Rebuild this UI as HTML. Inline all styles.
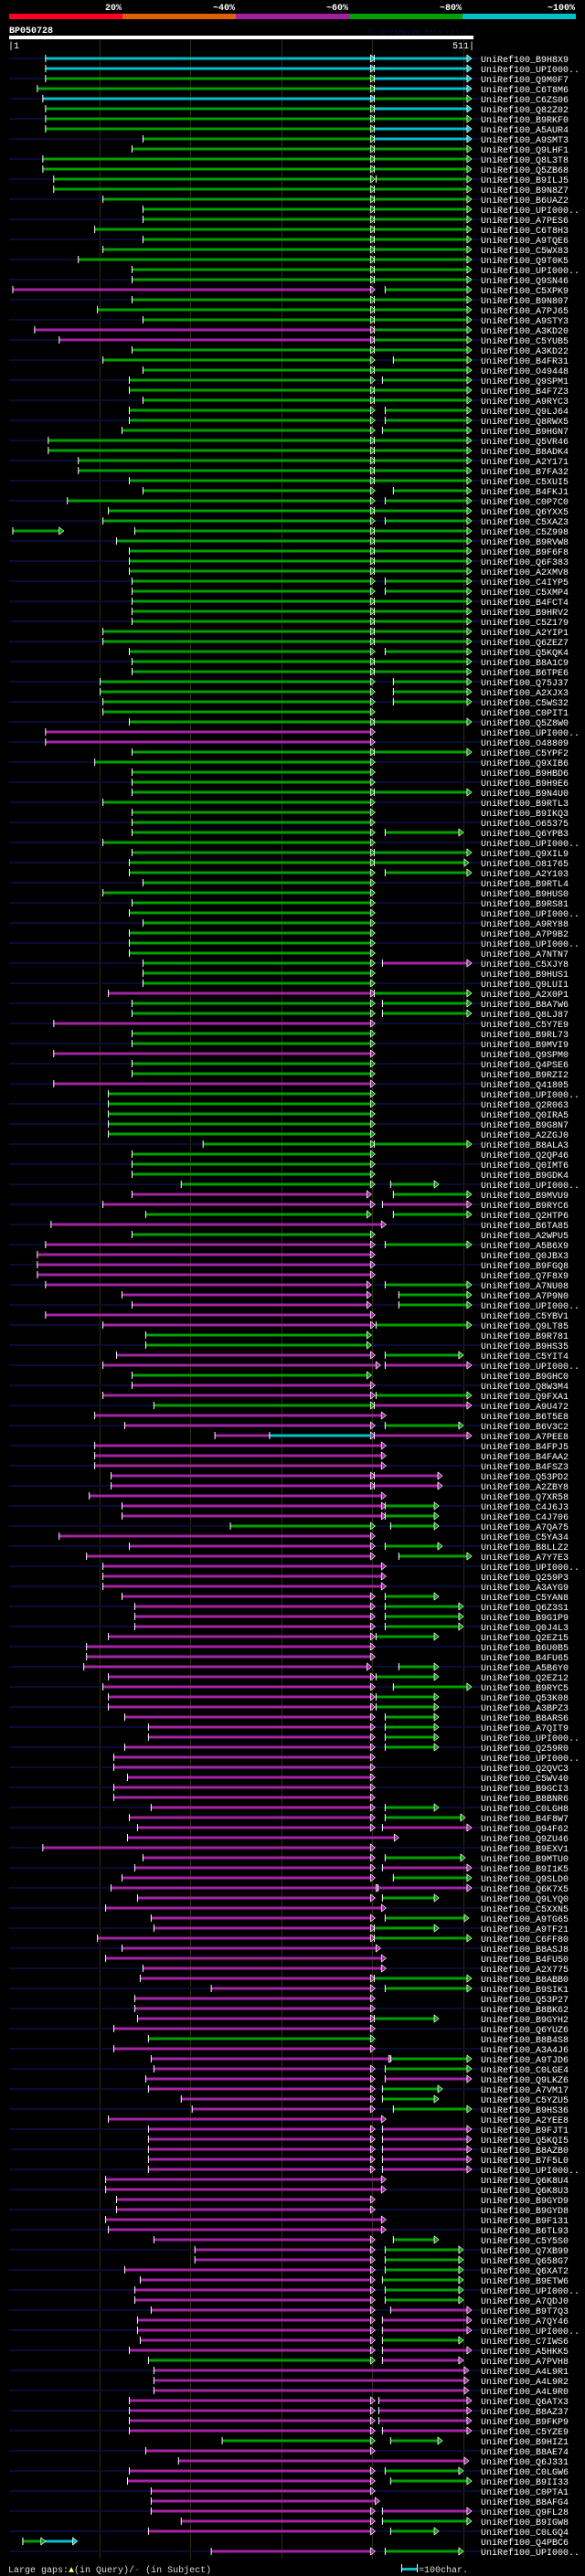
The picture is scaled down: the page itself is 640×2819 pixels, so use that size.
<!DOCTYPE html>
<html><head><meta charset="utf-8"><title>BP050728 alignment</title>
<style>
html,body{margin:0;padding:0;background:#000;}
body{width:640px;height:2819px;overflow:hidden;}
svg{display:block;}
text{font-family:"Liberation Mono",monospace;}
</style></head>
<body>
<svg id="chart" width="640" height="2819" viewBox="0 0 640 2819" xmlns="http://www.w3.org/2000/svg">
  <rect x="0" y="0" width="640" height="2819" fill="#000"/>
  <g>
    <text x="133" y="11" fill="#fff" font-size="10" font-weight="bold" text-anchor="end">20%</text>
    <text x="257" y="11" fill="#fff" font-size="10" font-weight="bold" text-anchor="end">~40%</text>
    <text x="381" y="11" fill="#fff" font-size="10" font-weight="bold" text-anchor="end">~60%</text>
    <text x="505" y="11" fill="#fff" font-size="10" font-weight="bold" text-anchor="end">~80%</text>
    <text x="629" y="11" fill="#fff" font-size="10" font-weight="bold" text-anchor="end">~100%</text>
    <rect x="10" y="15" width="124" height="6" fill="#ff0020"/>
    <rect x="134" y="15" width="124" height="6" fill="#e06000"/>
    <rect x="258" y="15" width="124" height="6" fill="#a020a0"/>
    <rect x="382" y="15" width="124" height="6" fill="#00a000"/>
    <rect x="506" y="15" width="124" height="6" fill="#00c0c8"/>
  </g>
  <text x="10" y="36" fill="#fff" font-size="10" font-weight="bold">BP050728</text>
  <text x="402" y="37" fill="#0c0c40" font-size="8">AlignView.pm Beta rel.7</text>
  <rect x="10" y="39" width="508" height="4" fill="#fff"/>
  <text x="9" y="53" fill="#fff" font-size="10">|1</text>
  <text x="519" y="53" fill="#fff" font-size="10" text-anchor="end">511|</text>
  <g id="grid"></g>
  <g id="rows"></g>
  <g>
    <text x="9" y="2815" fill="#ddd" font-size="10">Large gaps:<tspan fill="#ffff80">▲</tspan>(in Query)/<tspan fill="#00c0c8">-</tspan> (in Subject)</text>
    <rect x="440" y="2810" width="16" height="3" fill="#00c0c8"/>
    <rect x="439" y="2806" width="1" height="9" fill="#fff"/>
    <rect x="456" y="2806" width="1" height="9" fill="#fff"/>
    <text x="458" y="2815" fill="#ddd" font-size="10">=100char.</text>
  </g>
</svg>
<script>
const names = ["B9H8X9","UPI000..","Q9M0F7","C6T8M6","C6ZS06","Q82Z02","B9RKF0","A5AUR4","A9SMT3","Q9LHF1",
"Q8L3T8","Q5ZB68","B9ILJ5","B9N8Z7","B6UAZ2","UPI000..","A7PES6","C6T8H3","A9TQE6","C5WX83",
"Q9T0K5","UPI000..","Q9SN46","C5XPK9","B9N807","A7PJ65","A9STY3","A3KD20","C5YUB5","A3KD22",
"B4FR31","O49448","Q9SPM1","B4F7Z3","A9RYC3","Q9LJ64","Q8RWX5","B9HGN7","Q5VR46","B8ADK4",
"A2Y171","B7FA32","C5XUI5","B4FKJ1","C0P7C0","Q6YXX5","C5XAZ3","C5Z998","B9RVW8","B9F6F8",
"Q6F383","A2XMV8","C4IYP5","C5XMP4","B4FCT4","B9HRV2","C5Z179","A2YIP1","Q6ZEZ7","Q5KQK4",
"B8A1C9","B6TPE6","Q75J37","A2XJX3","C5WS32","C0PIT1","Q5Z8W0","UPI000..","O48809","C5YPF2",
"Q9XIB6","B9HBD6","B9H9E6","B9N4U0","B9RTL3","B9IKQ3","O65375","Q6YPB3","UPI000..","Q9XIL9",
"O81765","A2Y103","B9RTL4","B9HUS0","B9RS81","UPI000..","A9RY88","A7P9B2","UPI000..","A7NTN7",
"C5XJY8","B9HUS1","Q9LUI1","A2X0P1","B8A7W6","Q8LJ87","C5Y7E9","B9RL73","B9MVI9","Q9SPM0",
"Q4PSE6","B9RZI2","Q41805","UPI000..","Q2R063","Q0IRA5","B9G8N7","A2ZGJ0","B8ALA3","Q2QP46",
"Q0IMT6","B9GDK4","UPI000..","B9MVU9","B9RYC6","Q2HTP6","B6TA85","A2WPU5","A5B6X9","Q0JBX3",
"B9FGQ8","Q7F8X9","A7NU08","A7P9N0","UPI000..","C5YBV1","Q9LT85","B9R781","B9HS35","C5YIT4",
"UPI000..","B9GHC0","Q8W3M4","Q9FXA1","A9U472","B6T5E8","B6V3C2","A7PEE8","B4FPJ5","B4FAA2",
"B4FSZ3","Q53PD2","A2ZBY8","Q7XR58","C4J6J3","C4J706","A7QA75","C5YA34","B8LLZ2","A7Y7E3",
"UPI000..","Q259P3","A3AYG9","C5YAN8","Q6Z3S1","B9G1P9","Q0J4L3","Q2EZ15","B6U0B5","B4FU65",
"A5B6Y0","Q2EZ12","B9RYC5","Q53K08","A3BPZ3","B8ARS6","A7QIT9","UPI000..","Q259R0","UPI000..",
"Q2QVC3","C5WV40","B9GCI3","B8BNR6","C0LGH8","B4F8W7","Q94F62","Q9ZU46","B9EXV1","B9MTU0",
"B9I1K5","Q9SLD0","Q6K7X5","Q9LYQ0","C5XXN5","A9TG65","A9TF21","C6FF80","B8ASJ8","B4FU50",
"A2X775","B8ABB0","B9SIK1","Q53P27","B8BK62","B9GYH2","Q6YUZ6","B8B4S8","A3A4J6","A9TJD6",
"C0LGE4","Q9LKZ6","A7VM17","C5YZU5","B9HS36","A2YEE8","B9FJT1","Q5KQI5","B8AZB0","B7F5L0",
"UPI000..","Q6K8U4","Q6K8U3","B9GYD9","B9GYD8","B9F131","B6TL93","C5Y5S0","Q7XB99","Q658G7",
"Q6XAT2","B9ETW6","UPI000..","A7QDJ0","B9T7Q3","A7QY46","UPI000..","C7IWS6","A5HKK5","A7PVH8",
"A4L9R1","A4L9R2","A4L9R0","Q6ATX3","B8AZ37","B9FKP9","C5YZE9","B9HIZ1","B8AE74","Q6J331",
"C0LGW6","B9II33","C0PTA1","B8AFG4","Q9FL28","B9IGW8","C0LGQ4","Q4PBC6","UPI000.."];

const start1 = [41,41,41,32,38,41,41,41,148,136,
38,38,50,50,104,148,148,95,148,104,
77,136,136,5,136,98,148,29,56,136,
104,148,133,133,148,133,133,125,44,44,
77,77,133,148,65,110,104,139,119,133,
133,133,136,136,136,136,136,104,104,133,
136,136,101,101,104,104,133,41,41,136,
95,136,136,136,104,136,136,136,104,136,
133,133,148,104,136,133,148,133,133,133,
148,148,148,110,136,136,50,136,136,50,
136,136,50,110,110,110,110,110,214,136,
136,136,190,136,104,151,47,136,41,32,
32,32,41,125,136,41,104,151,151,119,
104,136,136,104,160,95,128,227,95,95,
95,113,113,89,125,125,244,56,133,86,
104,104,104,125,139,139,139,110,86,86,
83,110,104,110,110,128,154,154,128,116,
116,131,116,116,157,133,142,131,38,148,
139,125,113,142,107,157,160,98,125,107,
148,145,223,139,139,142,116,154,116,157,
160,151,154,190,202,110,154,154,154,154,
154,107,107,119,119,107,110,160,205,205,
128,145,139,139,157,142,142,145,133,154,
160,160,160,133,133,133,133,235,151,187,
133,131,157,157,157,190,154,16,223];

const end1 = [398,398,398,398,398,398,398,398,398,398,
398,398,398,398,398,398,398,398,398,398,
398,398,398,398,398,398,398,398,398,398,
398,398,398,398,398,398,398,398,398,398,
398,398,398,398,398,398,398,398,398,398,
398,398,398,398,398,398,398,398,398,398,
398,398,398,398,398,398,398,398,398,398,
398,398,398,398,398,398,398,398,398,398,
398,398,398,398,398,398,398,398,398,398,
398,398,398,398,398,398,398,398,398,398,
398,398,398,398,398,398,398,398,398,398,
398,398,398,394,398,394,410,398,398,398,
398,398,394,394,394,398,398,394,394,398,
404,394,398,398,398,410,398,398,410,410,
410,398,398,410,410,410,398,398,398,398,
410,410,410,398,398,398,398,398,398,398,
394,398,398,398,398,398,398,398,398,398,
398,398,398,398,398,398,398,424,398,398,
398,398,404,398,410,398,398,398,404,410,
410,398,398,398,398,398,398,398,398,418,
398,398,398,398,398,410,398,398,398,398,
398,410,410,398,398,410,410,398,398,398,
398,398,398,398,398,398,398,398,398,398,
501,501,501,398,398,398,398,398,398,501,
398,398,398,403,398,398,398,71,398];

const color1 = ("ccggcggggg"+"gggggggggg"+"gggmgggmmg"+"gggggggggg"+"gggggggggg"+
"gggggggggg"+"gggggggmmg"+"gggggggggg"+"gggggggggg"+"gggmggmggm"+
"ggmggggggg"+"gggmmgmgmm"+"mmmmmmmggm"+"mgmmgmmmmm"+"mmmmmmgmmm"+
"mmmmmmmmmm"+"mmmmmmmmmm"+"mmmmmmmmmm"+"mmmmmmmmmm"+"mmmmmmmgmm"+
"mmmmmmmmmm"+"mmmmmmmmmm"+"mmmmmmmmmg"+"mmmmmmmgmm"+"mmmmmmmcm").split("");

const start2 = [402,402,402,402,402,402,402,402,402,402,
402,402,404,402,402,402,402,402,402,402,
402,402,402,414,402,402,402,402,402,402,
423,402,411,402,402,414,414,411,402,402,
402,402,402,423,414,402,414,402,402,402,
402,402,414,414,402,402,402,402,402,414,
402,402,423,423,423,null,402,null,null,402,
null,null,null,402,null,null,null,414,null,402,
402,414,null,null,null,null,null,null,null,null,
411,null,null,402,411,411,null,null,null,null,
null,null,null,null,null,null,null,null,402,null,
null,null,420,423,411,423,null,null,414,null,
null,null,414,429,429,null,404,null,null,414,
414,null,null,404,402,null,414,402,null,null,
null,402,402,null,414,414,420,null,414,429,
null,null,null,414,414,414,414,404,null,null,
429,404,423,404,404,414,414,414,414,null,
null,null,null,null,414,414,411,null,null,414,
411,423,406,411,null,414,402,402,null,null,
null,402,414,null,null,402,null,null,null,420,
414,414,411,411,423,null,411,411,411,411,
411,null,null,null,null,null,null,423,414,414,
414,411,414,414,420,411,411,411,411,411,
null,null,null,407,407,407,411,420,null,null,
414,420,null,null,411,411,420,null,414];

const end2 = [504,504,504,504,504,504,504,504,504,504,
504,504,504,504,504,504,504,504,504,504,
504,504,504,504,504,504,504,504,504,504,
504,504,504,504,504,504,504,504,504,504,
504,504,504,504,504,504,504,504,504,504,
504,504,504,504,504,504,504,504,504,504,
504,504,504,504,504,504,504,504,504,504,
504,504,504,504,504,504,504,495,504,504,
501,504,504,504,504,504,504,504,504,504,
504,504,504,504,504,504,504,504,504,504,
504,504,504,504,504,504,504,504,504,504,
504,504,468,504,504,504,504,504,504,504,
504,504,504,504,504,504,504,504,504,495,
504,504,504,504,504,504,495,504,504,504,
504,472,472,504,468,468,468,504,472,504,
504,504,504,468,495,495,495,468,504,504,
468,468,504,468,468,468,468,468,468,504,
504,504,504,504,468,497,504,504,504,497,
504,504,504,468,504,501,468,504,504,504,
504,504,504,504,504,468,504,504,504,504,
504,504,472,468,504,504,504,504,504,504,
504,504,504,504,504,504,504,468,495,495,
495,495,495,495,504,504,504,495,504,495,
504,504,504,504,504,504,504,472,504,504,
495,504,504,504,504,504,468,504,495];

const color2 = ("ccccgcgccg"+"gggggggggg"+"gggggggggg"+"gggggggggg"+"gggggggggg"+
"gggggggggg"+"gggggggggg"+"gggggggggg"+"gggggggggg"+"mggggggggg"+
"gggggggggg"+"ggggmggggg"+"gggggggggg"+"mgggmggmgg"+"gmmggggggg"+
"gggggggggg"+"gggggggggg"+"ggggggmggg"+"mgmggggggg"+"gggggggggg"+
"gmggggmmmm"+"mggggggggg"+"ggggmmmgmm"+"gggmmmmggg"+"ggggmgggg").split("");

// overlay segments: row index, start, end, colour
const extraRow = [47, 137, 247];
const extraStart = [5, 287, 16];
const extraEnd = [56, 398, 36];
const extraColor = ["g", "c", "g"];

const gridTicks = [100, 200, 300, 400, 500];

const COL = {g: "#00a000", m: "#a424a4", c: "#00c0c8"};
const NS = "http://www.w3.org/2000/svg";
function xScale(p) { return 10 + (p - 1) * 508 / 510; }
function yRow(i) { return 64 + 11 * i; }
function mk(tag, attrs, parent) {
  const el = document.createElementNS(NS, tag);
  for (const k in attrs) el.setAttribute(k, attrs[k]);
  parent.appendChild(el);
  return el;
}

const grid = document.getElementById("grid");
gridTicks.forEach(function (t) {
  const l = mk("rect", {x: Math.round(xScale(t)), y: 44, width: 1, height: 2756, fill: "#2e2e08"}, grid);
  
  
});

const rowsG = document.getElementById("rows");
function drawSeg(g, y, s, e, c, withArrow) {
  const x1 = xScale(s), x2 = xScale(e);
  const bar = mk("rect", {x: x1, y: y - 1.5, width: Math.max(1, x2 - x1), height: 3, fill: COL[c]}, g);
  
  
  mk("rect", {x: x1 - 0.5, y: y - 4, width: 1, height: 8, fill: "#fff"}, g);
  if (withArrow) {
    mk("rect", {x: x2 - 0.5, y: y - 4, width: 1, height: 8, fill: "#fff"}, g);
    const a = mk("polygon", {points: x2 + "," + (y - 4) + " " + (x2 + 5) + "," + y + " " + x2 + "," + (y + 4), fill: COL[c], stroke: "#fff", "stroke-width": 0.6}, g);
    
    
  }
}

for (let i = 0; i < names.length; i++) {
  const y = yRow(i);
  const g = mk("g", {}, rowsG);
  
  
  if (i % 2 === 0) {
    const nv = mk("rect", {x: 10, y: y - 1, width: 517, height: 2, fill: "#0b0b36"}, g);
    
    
  }
  drawSeg(g, y, start1[i], end1[i], color1[i], true);
  if (start2[i] !== null) drawSeg(g, y, start2[i], end2[i], color2[i], true);
  const t = mk("text", {x: 526, y: y + 4, fill: "#fff", "font-size": 10}, g);
  t.textContent = "UniRef100_" + names[i];
  
  
}
for (let k = 0; k < extraRow.length; k++) {
  const y = yRow(extraRow[k]);
  const g = mk("g", {}, rowsG);
  
  
  drawSeg(g, y, extraStart[k], extraEnd[k], extraColor[k], extraRow[k] !== 137);
}
</script>
</body></html>
